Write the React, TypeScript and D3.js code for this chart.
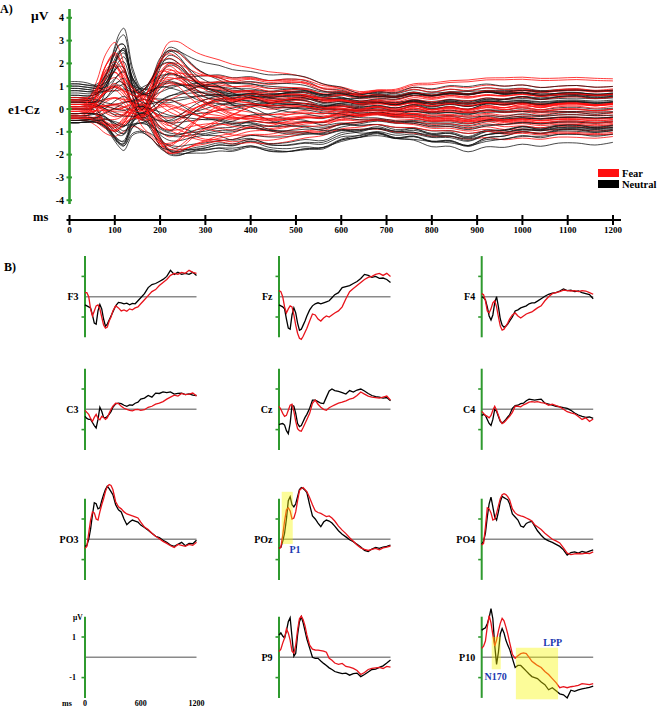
import React from "react";
import * as d3 from "d3";

// ---------- Panel A: butterfly plot (e1-Cz reference) ----------
const A_T = [0,20,40,60,80,100,110,120,140,160,180,200,220,240,260,280,300,330,360,400,440,480,520,560,600,640,680,720,760,800,840,880,920,960,1000,1040,1080,1120,1160,1200];
// temporal components
const COMP_BASE = [1,1,0.95,0.8,0.55,0.4,0.35,0.3,0.2,0.15,0.1,0.05,0,0,0,0,0,0,0,0,0,0,0,0,0,0,0,0,0,0,0,0,0,0,0,0,0,0,0,0];
const COMP_P1_NEU = [0,0,0,0.08,0.35,0.78,0.95,1,0.4,0.02,-0.08,-0.05,0,0,0,0,0,0,0,0,0,0,0,0,0,0,0,0,0,0,0,0,0,0,0,0,0,0,0,0];
const COMP_P1_FEAR = [0,0,0.05,0.35,0.8,1,0.9,0.7,0.25,0,-0.05,-0.03,0,0,0,0,0,0,0,0,0,0,0,0,0,0,0,0,0,0,0,0,0,0,0,0,0,0,0,0];
const COMP_MID = [0,0,0,0,0,0,0.05,0.2,0.6,1,0.7,0.3,0,0,0,0,0,0,0,0,0,0,0,0,0,0,0,0,0,0,0,0,0,0,0,0,0,0,0,0];
const COMP_P2 = [0,0,0,0,0,0,0,0,0,0.1,0.45,0.85,1,0.95,0.8,0.65,0.55,0.45,0.38,0.3,0.28,0.25,0.22,0.2,0.15,0.1,0.08,0.08,0.06,0.05,0.05,0.05,0.04,0.04,0.03,0.03,0.02,0.02,0.02,0.02];
const COMP_LATE = [0,0,0,0,0,0,0,0,0,0.05,0.1,0.15,0.25,0.35,0.45,0.55,0.62,0.7,0.8,0.88,0.92,0.95,0.9,0.8,0.7,0.65,0.65,0.7,0.8,0.85,0.9,0.95,0.95,1,1,1,0.98,1,1,0.98];
const COMP_DRIFT = [0,0,0,0,0,0,0,0,0,0,0,-0.1,-0.25,-0.4,-0.55,-0.7,-0.8,-0.8,-0.7,-0.55,-0.4,-0.25,-0.1,0.05,0.2,0.3,0.4,0.45,0.5,0.55,0.55,0.6,0.6,0.6,0.55,0.55,0.5,0.5,0.5,0.45];
const COMP_WIG = [0,0,0,0,0,0,0,0,0,0,0,0,0,0,0,0,0,0.15,-0.1,0.2,-0.15,0.1,0.25,-0.2,0.15,-0.1,0.2,-0.15,0.25,-0.2,0.1,-0.25,0.2,-0.1,0.15,-0.2,0.1,0.15,-0.1,0.1];
const COMP_SHIFT_NEU = [0,0,0,0,0,0,0,0,0,0,0,0,0,0,0,0,0,0,0,0,0.3,0.7,0.9,1,1,0.9,0.9,1,1,1.05,1.1,1.2,0.9,0.4,0.2,0.1,0.05,0,0,0];

// channel loadings, Neutral (black)
const NEU_P1 = [3.3,2.6,2.7,-1.5,2.5,-1.4,2.6,2.0,-1.2,1.5,0.8,-1.5,2.3,-0.6,0.4,-1.0,1.8,-1.3,0.2,-0.9,1.2,-0.3,0.6,1.0,-1.1,0.0,-0.5,-1.4,2.9,-0.8,-0.2,0.3,2.4,-1.3,1.6,0.9,-0.7,2.2,-0.4,1.3];
const NEU_MID = [0.6,-0.5,0.3,-0.7,0.5,0.2,-0.4,0.7,-0.3,0.4,-0.6,0.1,0.5,-0.2,0.6,-0.5,0.3,-0.7,0.4,-0.1,0.6,-0.4,0.2,-0.6,0.5,-0.3,0.7,-0.2,0.4,-0.5,0.1,0.6,-0.4,0.3,-0.6,0.5,-0.1,0.4,-0.7,0.2];
const NEU_P2 = [1.5,2.7,0.9,-1.6,2.3,-0.5,2.5,0.3,-1.2,1.1,2.0,-1.5,0.6,-0.9,1.4,-0.2,2.2,-1.3,0.1,-1.7,0.8,-1.0,-0.4,1.7,-1.4,0.4,-0.7,-1.2,2.8,-1.1,-0.1,1.0,2.4,-1.3,0.7,2.1,-0.8,1.3,-1.5,0.2];
const NEU_LATE = [0.6,-0.3,0.9,-1.2,0.2,-0.8,0.4,-0.1,-1.2,0.5,-0.5,-0.9,0.7,0.0,0.3,-1.3,0.8,-0.6,0.1,-1.0,0.5,-0.2,0.6,-0.7,-1.1,0.2,0.9,-0.4,-1.4,0.4,-0.8,0.1,-0.5,0.8,-1.0,0.3,0.6,-0.2,-0.9,1.0];
const NEU_DRIFT = [0.4,-0.3,-0.5,0.2,0.6,-0.4,0.1,-0.6,0.5,0.3,-0.2,0.4,-0.5,0.6,-0.1,0.3,-0.4,0.5,-0.6,0.2,-0.3,0.5,0.4,-0.2,0.6,-0.5,0.2,0.3,-0.4,0.6,-0.1,0.4,-0.3,-0.5,0.2,0.5,-0.6,0.1,0.3,-0.4];
const NEU_SHIFT = [0,-0.2,0.1,-0.4,-0.5,0,-0.2,0.1,-0.5,0,-0.3,-0.4,0,-0.2,0,-0.4,0.1,-0.3,-0.1,-0.5,0,-0.2,0,-0.4,-0.5,0,0.1,-0.3,-0.3,0,-0.4,-0.1,-0.2,0,-0.4,0,0,-0.1,-0.3,0];
const NEU_BASE = [0.4,1.1,-0.3,-0.6,0.2,-0.5,1.0,0.5,-0.6,0.3,0.9,-0.2,0.6,-0.4,1.2,0.0,0.7,-0.6,0.1,-0.5,1.0,0.2,-0.3,0.8,-0.4,0.5,0.3,-0.6,0.9,-0.2,0.4,-0.5,0.8,-0.5,1.1,0.3,-0.2,0.6,-0.6,0.0];
const NEU_WIG = [0.3,0.2,0.4,0.1,0.3,0.2,0.35,0.15,0.4,0.25,0.2,0.3,0.1,0.35,0.2,0.4,0.3,0.15,0.25,0.35,0.2,0.3,0.1,0.4,0.25,0.2,0.3,0.15,0.35,0.2,0.3,0.25,0.2,0.35,0.15,0.3,0.25,0.1,0.4,0.2];
// channel loadings, Fear (red)
const FEAR_P1 = [2.8,2.5,-1.2,2.3,2.1,-0.9,1.9,1.8,-0.6,1.6,1.5,-1.0,1.3,1.1,-0.4,1.0,0.9,-0.8,0.7,0.6,-1.1,0.5,0.3,-0.2,0.2,0.1,-0.5,0.0,-0.1,-0.3,-0.7,0.4,2.6,1.7,-1.0,1.2,0.8,-0.6,2.0,0.2];
const FEAR_MID = [-0.4,0.6,-0.2,0.5,-0.6,0.3,0.7,-0.5,0.2,-0.3,0.6,-0.7,0.4,0.1,-0.5,0.6,-0.2,0.3,-0.6,0.5,-0.4,0.2,0.7,-0.3,0.4,-0.6,0.1,0.5,-0.4,0.3,0.6,-0.5,0.2,-0.7,0.4,-0.1,0.5,-0.3,0.6,-0.2];
const FEAR_P2 = [2.6,2.4,-1.9,1.0,2.2,-1.2,0.5,1.8,-2.0,2.5,0.2,-1.9,1.4,-0.8,2.0,-1.5,0.8,-0.3,1.6,-1.7,0.0,2.3,-1.0,0.6,-1.8,1.2,-0.5,-1.4,0.3,-0.6,1.9,-0.2,2.6,-1.6,1.1,2.1,-0.9,0.4,-1.9,1.5];
const FEAR_LATE = [0.8,-0.4,1.1,0.3,-0.9,0.5,-1.2,0.9,-0.2,0.6,-0.7,1.0,0.1,-1.0,0.4,-0.5,0.7,-1.1,0.2,-0.3,1.1,-0.8,0.5,-0.6,0.0,0.9,-1.3,0.3,-0.1,0.6,-0.9,0.2,-0.6,1.0,0.4,-1.2,0.8,-0.3,0.5,-0.8];
const FEAR_DRIFT = [-0.5,0.3,0.6,-0.2,0.4,-0.6,0.5,0.1,-0.4,0.3,0.6,-0.3,0.2,-0.5,0.4,0.5,-0.2,0.6,-0.1,0.4,-0.5,0.3,-0.6,0.2,0.5,-0.3,0.4,-0.4,0.6,-0.2,0.3,-0.5,0.1,0.6,-0.4,0.2,-0.3,0.5,-0.6,0.4];
const FEAR_BASE = [0.3,-0.2,0.5,0.1,-0.4,0.2,-0.1,0.4,-0.3,0.0,0.3,-0.5,0.2,-0.2,0.4,-0.1,0.1,-0.4,0.3,-0.3,0.5,0.0,-0.2,0.2,-0.5,0.1,0.4,-0.1,0.3,-0.4,0.0,0.2,-0.3,0.4,0.1,-0.2,0.5,-0.4,0.2,0.0];
const FEAR_WIG = [0.2,0.35,0.15,0.3,0.25,0.4,0.2,0.3,0.1,0.35,0.25,0.2,0.3,0.15,0.4,0.2,0.3,0.25,0.35,0.1,0.3,0.2,0.4,0.15,0.25,0.3,0.2,0.35,0.1,0.3,0.25,0.2,0.3,0.15,0.35,0.2,0.25,0.4,0.1,0.3];

const A_YTICKS = [-4,-3,-2,-1,0,1,2,3,4];
const A_XTICKS = [0,100,200,300,400,500,600,700,800,900,1000,1100,1200];

// ---------- Panel B: grand-average ERPs ----------
const TB = [0,20,40,60,80,100,120,140,160,180,200,220,240,260,280,300,330,360,390,420,450,480,510,540,570,600,640,680,720,760,800,840,880,920,960,1000,1040,1080,1120,1160,1200];

const F3_NEU = [-0.4,-0.45,-0.5,-0.55,-0.9,-1.3,-1.35,-0.7,-0.38,-0.6,-1.1,-1.45,-1.35,-1.15,-0.95,-0.75,-0.45,-0.28,-0.3,-0.35,-0.32,-0.4,-0.33,-0.35,-0.2,-0.05,0.15,0.45,0.6,0.65,0.75,0.85,1.0,1.3,1.1,1.2,1.1,1.15,1.1,1.2,1.05];
const F3_FEAR = [0.2,0.2,0.0,-0.6,-0.95,-0.7,-0.45,-0.4,-0.6,-1.0,-1.4,-1.55,-1.5,-1.2,-1.0,-0.7,-0.45,-0.55,-0.7,-0.65,-0.72,-0.6,-0.65,-0.55,-0.5,-0.35,-0.15,0.05,0.25,0.35,0.55,0.7,0.85,1.05,1.15,1.1,1.2,1.15,1.3,1.2,1.15];
const FZ_NEU = [-0.4,-0.45,-0.5,-0.6,-1.1,-1.55,-1.6,-0.9,-0.55,-0.8,-1.3,-1.65,-1.6,-1.4,-1.2,-0.95,-0.65,-0.45,-0.35,-0.3,-0.35,-0.3,-0.25,-0.2,-0.05,0.1,0.2,0.45,0.5,0.55,0.65,0.75,0.9,1.1,1.05,0.95,1.0,0.9,0.92,0.85,0.7];
const FZ_FEAR = [0.3,0.25,0.0,-0.5,-0.8,-0.6,-0.45,-0.5,-0.9,-1.4,-1.8,-2.05,-2.1,-1.95,-1.75,-1.55,-1.2,-0.85,-0.9,-1.1,-1.2,-1.05,-0.95,-1.0,-0.9,-0.8,-0.7,-0.5,-0.1,0.25,0.4,0.55,0.7,0.85,0.95,1.0,1.1,1.15,1.05,1.15,1.0];
const F4_NEU = [0.0,-0.05,-0.15,-0.5,-0.95,-1.15,-0.9,-0.3,0.0,-0.5,-1.1,-1.4,-1.5,-1.45,-1.35,-1.2,-1.0,-0.7,-0.65,-0.55,-0.5,-0.45,-0.35,-0.3,-0.3,-0.22,-0.1,0.02,0.12,0.18,0.2,0.28,0.38,0.3,0.32,0.25,0.28,0.2,0.15,0.1,-0.1];
const F4_FEAR = [0.15,0.1,-0.2,-0.7,-0.8,-0.6,-0.3,-0.2,-0.5,-1.0,-1.45,-1.65,-1.6,-1.45,-1.3,-1.1,-0.9,-0.8,-0.95,-1.05,-0.95,-0.85,-0.8,-0.75,-0.65,-0.55,-0.45,-0.2,0.0,0.15,0.2,0.25,0.32,0.3,0.28,0.3,0.25,0.3,0.28,0.2,0.12];
const C3_NEU = [-0.35,-0.45,-0.5,-0.5,-0.65,-0.8,-0.92,-0.5,0.1,-0.1,-0.4,-0.42,-0.35,-0.25,-0.12,0.1,0.27,0.3,0.28,0.2,0.15,0.22,0.2,0.3,0.35,0.5,0.55,0.68,0.6,0.8,0.78,0.86,0.82,0.86,0.75,0.78,0.8,0.72,0.76,0.7,0.68];
const C3_FEAR = [-0.05,-0.15,-0.25,-0.45,-0.6,-0.4,-0.25,-0.45,-0.52,-0.35,-0.4,-0.5,-0.42,-0.2,0.0,0.15,0.3,0.28,0.15,0.05,0.0,-0.05,-0.08,-0.02,0.0,-0.05,-0.02,0.1,0.15,0.25,0.3,0.38,0.5,0.6,0.7,0.65,0.78,0.72,0.75,0.8,0.65];
const CZ_NEU = [-0.75,-0.72,-0.7,-0.78,-1.05,-1.2,-0.7,0.2,0.15,-0.2,-0.7,-0.85,-0.8,-0.6,-0.4,-0.25,0.05,0.45,0.45,0.38,0.3,0.28,0.6,0.9,1.0,0.92,0.88,0.82,0.75,0.92,0.85,0.95,1.0,0.9,0.78,0.68,0.62,0.6,0.55,0.58,0.42];
const CZ_FEAR = [0.15,0.0,-0.2,-0.35,-0.3,-0.05,0.2,0.25,-0.1,-0.6,-0.95,-1.05,-1.08,-0.9,-0.7,-0.5,-0.2,0.3,0.45,0.25,0.1,0.0,-0.05,0.08,0.15,0.22,0.3,0.35,0.42,0.5,0.55,0.68,0.85,0.75,0.65,0.6,0.58,0.55,0.6,0.65,0.45];
const C4_NEU = [-0.3,-0.25,-0.3,-0.5,-0.7,-0.8,-0.5,0.0,-0.1,-0.35,-0.6,-0.68,-0.6,-0.5,-0.38,-0.28,0.05,0.18,0.2,0.28,0.3,0.42,0.5,0.48,0.45,0.48,0.5,0.3,0.25,0.2,0.15,0.12,0.08,0.05,-0.05,-0.18,-0.28,-0.35,-0.4,-0.38,-0.45];
const C4_FEAR = [-0.1,-0.2,-0.3,-0.35,-0.42,-0.3,-0.05,0.15,-0.05,-0.3,-0.55,-0.7,-0.65,-0.55,-0.45,-0.35,-0.15,0.15,0.15,0.12,0.22,0.28,0.35,0.38,0.35,0.38,0.33,0.3,0.2,0.25,0.18,0.12,0.0,-0.12,-0.18,-0.22,-0.35,-0.5,-0.42,-0.6,-0.48];
const PO3_NEU = [-0.35,-0.3,0.0,0.5,1.2,1.8,1.75,1.5,1.55,1.9,2.2,2.45,2.62,2.5,2.35,2.2,1.7,1.45,1.35,1.0,0.72,0.85,0.95,0.9,0.85,0.7,0.58,0.45,0.3,0.15,0.08,-0.05,-0.15,-0.28,-0.35,-0.25,-0.15,-0.32,-0.2,-0.22,-0.05];
const PO3_FEAR = [-0.45,-0.35,0.3,0.95,1.35,1.3,1.0,0.95,1.35,1.7,2.0,2.35,2.6,2.7,2.65,2.45,1.85,1.6,1.5,1.35,1.25,1.2,1.15,1.1,1.05,0.85,0.6,0.48,0.3,0.15,0.03,-0.1,-0.2,-0.32,-0.4,-0.25,-0.3,-0.35,-0.25,-0.3,-0.15];
const POZ_NEU = [-0.45,-0.4,-0.1,0.3,1.0,1.9,2.1,1.7,1.6,1.75,2.1,2.45,2.55,2.5,2.42,2.3,1.7,1.15,1.0,0.8,0.62,0.85,0.95,0.9,0.8,0.65,0.42,0.25,0.12,-0.02,-0.12,-0.25,-0.38,-0.55,-0.6,-0.48,-0.4,-0.45,-0.38,-0.35,-0.28];
const POZ_FEAR = [-0.45,-0.4,0.2,0.9,1.45,1.55,1.4,1.0,1.05,1.35,1.9,2.4,2.5,2.55,2.45,2.35,2.05,1.7,1.4,1.32,1.28,1.2,1.12,1.15,1.05,0.9,0.65,0.45,0.28,0.08,-0.1,-0.28,-0.42,-0.5,-0.55,-0.5,-0.45,-0.52,-0.42,-0.38,-0.33];
const PO4_NEU = [-0.25,-0.1,0.3,1.1,1.75,2.08,1.6,1.1,0.95,1.35,1.85,2.12,2.05,2.0,1.95,1.75,1.25,1.1,0.95,0.65,0.6,0.78,0.85,0.88,0.65,0.42,0.2,0.02,-0.08,-0.15,-0.25,-0.35,-0.52,-0.78,-0.65,-0.62,-0.68,-0.6,-0.65,-0.58,-0.52];
const PO4_FEAR = [-0.28,-0.2,0.6,1.55,1.5,1.3,0.95,1.0,1.28,1.65,2.0,2.2,2.25,2.2,2.1,1.95,1.5,1.3,1.2,1.15,1.12,1.05,0.98,0.9,0.72,0.62,0.48,0.3,0.15,0.0,-0.08,-0.18,-0.42,-0.68,-0.75,-0.72,-0.7,-0.72,-0.68,-0.7,-0.62];
const P9_NEU = [1.1,1.2,1.05,0.95,1.3,1.75,1.95,1.0,0.05,0.2,1.1,1.75,2.0,1.7,1.3,0.9,0.45,0.0,-0.05,-0.05,-0.18,-0.3,-0.4,-0.52,-0.6,-0.7,-0.75,-0.8,-0.78,-0.88,-0.8,-0.78,-0.95,-0.85,-0.72,-0.6,-0.58,-0.5,-0.42,-0.28,-0.13];
const P9_FEAR = [0.28,0.4,0.7,0.95,1.4,1.2,0.85,0.3,0.2,0.6,1.35,1.9,2.03,1.85,1.55,1.1,0.6,0.4,0.36,0.35,0.33,0.3,0.25,-0.05,-0.15,-0.28,-0.35,-0.3,-0.45,-0.48,-0.55,-0.65,-0.85,-0.75,-0.6,-0.55,-0.52,-0.5,-0.55,-0.45,-0.48];
const P10_NEU = [1.34,1.4,1.45,1.65,1.95,2.4,1.9,0.6,-0.35,0.25,1.15,1.42,1.2,0.85,0.6,0.4,-0.05,-0.5,-0.4,-0.4,-0.54,-0.68,-0.82,-0.95,-1.0,-1.05,-1.22,-1.35,-1.6,-1.5,-1.65,-1.8,-1.85,-2.0,-1.62,-1.68,-1.6,-1.55,-1.52,-1.48,-1.42];
const P10_FEAR = [0.44,0.55,0.8,1.5,2.05,1.7,1.1,0.55,0.85,1.3,1.67,1.92,1.8,1.5,1.15,0.75,0.15,-0.05,0.08,0.18,0.22,0.18,0.0,-0.2,-0.3,-0.4,-0.5,-0.7,-0.85,-1.05,-1.25,-1.5,-1.45,-1.5,-1.45,-1.42,-1.38,-1.3,-1.32,-1.35,-1.3];

const B_LABELS = ["F3","Fz","F4","C3","Cz","C4","PO3","POz","PO4","","P9","P10"];
const B_NEU = [F3_NEU,FZ_NEU,F4_NEU,C3_NEU,CZ_NEU,C4_NEU,PO3_NEU,POZ_NEU,PO4_NEU,null,P9_NEU,P10_NEU];
const B_FEAR = [F3_FEAR,FZ_FEAR,F4_FEAR,C3_FEAR,CZ_FEAR,C4_FEAR,PO3_FEAR,POZ_FEAR,PO4_FEAR,null,P9_FEAR,P10_FEAR];

// highlighted windows: [panel index, t0, t1, vTop, vBottom]
const HIGHLIGHTS: [number, number, number, number, number][] = [
  [7, 29, 148, 2.34, -0.23],
  [11, 108, 205, 1.01, -0.59],
  [11, 368, 822, 0.47, -2.07],
];
// component labels: [panel index, label, t, v]
const COMPONENT_LABELS: [number, string, number, number][] = [
  [7, "P1", 173, -0.52],
  [11, "N170", 149, -0.93],
  [11, "LPP", 765, 0.72],
];

const FONT = "'Liberation Serif','Times New Roman','DejaVu Serif',serif";
const GREEN = "#2f9a2f";
const RED = "#ff1010";

function channel(loads: number[], comps: number[][]): [number, number][] {
  return A_T.map((t, k) => {
    let v = 0;
    for (let j = 0; j < comps.length; j++) v += loads[j] * comps[j][k];
    return [t, v];
  });
}

export default function App() {
  // Panel A scales
  const xA = d3.scaleLinear().domain([0, 1200]).range([69.5, 613]);
  const yA = d3.scaleLinear().domain([-4, 4]).range([200.2, 17.8]);
  const lineA = d3
    .line<[number, number]>()
    .x((d) => xA(d[0]))
    .y((d) => yA(d[1]))
    .curve(d3.curveCatmullRom.alpha(0.5));

  const neuComps = [COMP_P1_NEU, COMP_MID, COMP_P2, COMP_LATE, COMP_DRIFT, COMP_SHIFT_NEU, COMP_BASE, COMP_WIG];
  const fearComps = [COMP_P1_FEAR, COMP_MID, COMP_P2, COMP_LATE, COMP_DRIFT, COMP_BASE, COMP_WIG];
  const neuLines = NEU_P1.map((_, i) =>
    channel(
      [NEU_P1[i], NEU_MID[i], NEU_P2[i], NEU_LATE[i], NEU_DRIFT[i], NEU_SHIFT[i], NEU_BASE[i], NEU_WIG[i]],
      neuComps
    )
  );
  const fearLines = FEAR_P1.map((_, i) =>
    channel([FEAR_P1[i], FEAR_MID[i], FEAR_P2[i], FEAR_LATE[i], FEAR_DRIFT[i], FEAR_BASE[i], FEAR_WIG[i]], fearComps)
  );

  // Panel B layout
  const colX = [85, 279, 481.7];
  const rowY = [296.7, 409.3, 539.3, 657.3];
  const pxPerUV = 20.3;
  const panelW = 111.5;

  const panels = B_LABELS.map((lab, i) => {
    const x0 = colX[i % 3];
    const y0 = rowY[Math.floor(i / 3)];
    const x = d3.scaleLinear().domain([0, 1200]).range([x0, x0 + panelW]);
    const y = d3.scaleLinear().domain([-2, 2]).range([y0 + 2 * pxPerUV, y0 - 2 * pxPerUV]);
    return { lab, x, y, x0, y0, i };
  });

  const lineB = (p: any, vals: number[]) =>
    d3
      .line<number>()
      .x((_, k) => p.x(TB[k]))
      .y((d) => p.y(d))
      .curve(d3.curveLinear)(vals) || "";

  return (
    <svg
      width={658}
      height={708}
      style={{ position: "absolute", left: 0, top: 0, background: "#fff" }}
      fontFamily={FONT}
      fontWeight="bold"
    >
      {/* ---------- Panel A ---------- */}
      <text x={0} y={13} fontSize={12}>A)</text>
      <text x={31} y={20} fontSize={13.5}>μV</text>
      <text x={8} y={113.5} fontSize={13}>e1-Cz</text>

      <g>
        {neuLines.map((l, i) => (
          <React.Fragment key={i}>
            <path d={lineA(l) || ""} fill="none" stroke="#111" strokeOpacity={0.85} strokeWidth={0.9} />
            <path d={lineA(fearLines[i]) || ""} fill="none" stroke={RED} strokeOpacity={0.9} strokeWidth={0.9} />
          </React.Fragment>
        ))}
      </g>

      {/* A y axis */}
      <line x1={xA(0)} x2={xA(0)} y1={9} y2={204} stroke={GREEN} strokeWidth={2.6} />
      {A_YTICKS.map((v) => (
        <g key={v}>
          <line x1={xA(0) - 3} x2={xA(0) + 2.5} y1={yA(v)} y2={yA(v)} stroke={GREEN} strokeWidth={2} />
          <text x={64} y={yA(v)} fontSize={10} textAnchor="end" dominantBaseline="central">{v}</text>
        </g>
      ))}

      {/* legend */}
      <rect x={598} y={169} width={21} height={8} fill={RED} />
      <text x={622} y={173} fontSize={10.5} dominantBaseline="central">Fear</text>
      <rect x={598} y={180} width={21} height={8} fill="#000" />
      <text x={622} y={184.5} fontSize={10.5} dominantBaseline="central">Neutral</text>

      {/* A time axis */}
      <text x={33} y={221} fontSize={12.5}>ms</text>
      <line x1={66.5} x2={621} y1={220} y2={220} stroke="#000" strokeWidth={2.2} />
      {A_XTICKS.map((t) => (
        <g key={t}>
          <line x1={xA(t)} x2={xA(t)} y1={215} y2={225} stroke="#000" strokeWidth={2} />
          <text x={xA(t)} y={233} fontSize={9} textAnchor="middle">{t}</text>
        </g>
      ))}

      {/* ---------- Panel B ---------- */}
      <text x={4} y={271} fontSize={12}>B)</text>

      {panels.map((p) => {
        const neu = B_NEU[p.i];
        const fear = B_FEAR[p.i];
        return (
          <g key={p.i}>
            <line x1={p.x0} x2={p.x0 + panelW} y1={p.y0} y2={p.y0} stroke="#8a8a8a" strokeWidth={1.5} />
            <line x1={p.x0} x2={p.x0} y1={p.y(2)} y2={p.y(-2)} stroke={GREEN} strokeWidth={2} />
            {[1, -1].map((v) => (
              <line key={v} x1={p.x0 - 3.5} x2={p.x0} y1={p.y(v)} y2={p.y(v)} stroke={GREEN} strokeWidth={1.6} />
            ))}
            {neu && <path d={lineB(p, neu)} fill="none" stroke="#000" strokeWidth={1.3} />}
            {fear && <path d={lineB(p, fear)} fill="none" stroke="#e8141c" strokeWidth={1.3} />}
            {p.lab && (
              <text x={p.x0 - 6.5} y={p.y0} fontSize={10} textAnchor="end" dominantBaseline="central">
                {p.lab}
              </text>
            )}
          </g>
        );
      })}

      {/* highlight windows */}
      {HIGHLIGHTS.map(([pi, t0, t1, v0, v1], k) => {
        const p = panels[pi];
        return (
          <rect
            key={k}
            x={p.x(t0)}
            y={p.y(v0)}
            width={p.x(t1) - p.x(t0)}
            height={p.y(v1) - p.y(v0)}
            fill="#f8f800"
            fillOpacity={0.4}
          />
        );
      })}
      {COMPONENT_LABELS.map(([pi, lab, t, v], k) => {
        const p = panels[pi];
        return (
          <text key={k} x={p.x(t)} y={p.y(v)} fontSize={10} fill="#2038b0" textAnchor="middle" dominantBaseline="central">
            {lab}
          </text>
        );
      })}

      {/* scale panel (bottom-left) */}
      {(() => {
        const p = panels[9];
        return (
          <g fontSize={8}>
            <text x={p.x0 - 12} y={p.y(1.95)} fontSize={7.5} dominantBaseline="central">μV</text>
            <text x={p.x0 - 9} y={p.y(1)} textAnchor="end" dominantBaseline="central">1</text>
            <text x={p.x0 - 9} y={p.y(-1)} textAnchor="end" dominantBaseline="central">-1</text>
            <text x={p.x0 - 23} y={703} dominantBaseline="central">ms</text>
            {[0, 600, 1200].map((t) => (
              <text key={t} x={p.x(t)} y={703} textAnchor="middle" dominantBaseline="central">{t}</text>
            ))}
          </g>
        );
      })()}
    </svg>
  );
}
